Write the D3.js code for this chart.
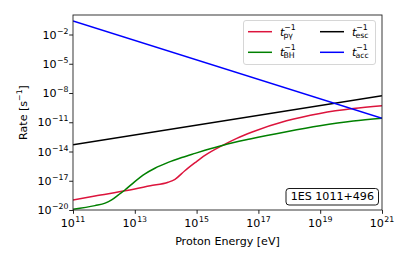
<!DOCTYPE html>
<html>
<head>
<meta charset="utf-8">
<script src="https://cdn.jsdelivr.net/npm/d3@7"></script>
<style>
  body { margin: 0; background: #fff; }
  text { font-family: "DejaVu Sans", sans-serif; fill: #000; }
</style>
</head>
<body>
<svg id="chart" width="407" height="262"></svg>
<script>
// values, log10 of energy [eV] and rate [1/s]
var energyTicks = [11, 13, 15, 17, 19, 21];
var rateTicks = [-20, -17, -14, -11, -8, -5, -2];

var pgE   = [11, 11.71, 12.74, 13.5, 14.08, 14.3, 14.62, 14.95, 15.27, 15.86, 16.3, 16.8, 17.91, 18.99, 20.07, 21];
var pgR   = [-18.97, -18.56, -18.0, -17.52, -17.15, -16.85, -15.97, -15.15, -14.4, -13.34, -12.65, -12.0, -10.85, -10.1, -9.6, -9.32];
var bhE   = [11, 11.71, 12.04, 12.25, 12.47, 12.68, 13.0, 13.33, 13.65, 14.08, 14.52, 14.95, 15.27, 15.86, 16.73, 17.91, 18.99, 20.07, 21];
var bhR   = [-19.92, -19.55, -19.3, -18.97, -18.45, -17.95, -17.09, -16.3, -15.72, -15.12, -14.62, -14.19, -13.88, -13.35, -12.72, -11.97, -11.36, -10.88, -10.6];
var escE  = [11, 21];
var escR  = [-13.32, -8.28];
var accE  = [11, 21];
var accR  = [-0.6, -10.6];

var series = [
  {name: 'pγ',  col: '#dc143c', e: pgE,  r: pgR},
  {name: 'BH',  col: '#008000', e: bhE,  r: bhR},
  {name: 'esc', col: '#000000', e: escE, r: escR},
  {name: 'acc', col: '#0000ff', e: accE, r: accR}
];

var svg = d3.select('#chart'),
    mLeft = 73, mRight = 382, mTop = 15, mBottom = 210,
    fs = 11.1, ss = 7.8;

var x = d3.scaleLog().domain([1e11, 1e21]).range([mLeft, mRight]);
var y = d3.scaleLog().domain([1e-20, 1]).range([mBottom, mTop]);

var clip = svg.append('clipPath').attr('id', 'clip');
clip.append('rect').attr('x', mLeft).attr('y', mTop)
    .attr('width', mRight - mLeft).attr('height', mBottom - mTop);

var line = d3.line()
    .x(function (d) { return x(Math.pow(10, d[0])); })
    .y(function (d) { return y(Math.pow(10, d[1])); })
    .curve(d3.curveMonotoneX);

var g = svg.append('g').attr('clip-path', 'url(#clip)');
series.forEach(function (s) {
    var pts = s.e.map(function (e, i) { return [e, s.r[i]]; });
    g.append('path').attr('d', line(pts))
        .attr('fill', 'none').attr('stroke', s.col).attr('stroke-width', 1.5);
});

// frame
svg.append('rect').attr('x', mLeft).attr('y', mTop)
    .attr('width', mRight - mLeft).attr('height', mBottom - mTop)
    .attr('fill', 'none').attr('stroke', '#222').attr('stroke-width', 0.9);

// power-of-ten label
function powLabel(sel, exp) {
    sel.append('tspan').text('10');
    sel.append('tspan').attr('dy', -5).attr('dx', 0.5).attr('font-size', ss)
        .text(exp < 0 ? '\u2212' + (-exp) : exp);
}

// x axis
var xAxis = svg.append('g').attr('transform', 'translate(0,' + mBottom + ')')
    .call(d3.axisBottom(x).tickValues(energyTicks.map(function (t) { return Math.pow(10, t); }))
        .tickSize(3.8).tickFormat(''));
xAxis.select('.domain').remove();
xAxis.selectAll('line').attr('stroke', '#222');
energyTicks.forEach(function (t) {
    var tx = svg.append('text').attr('x', x(Math.pow(10, t))).attr('y', 227)
        .attr('text-anchor', 'middle').attr('font-size', fs);
    powLabel(tx, t);
});

// y axis
var yAxis = svg.append('g').attr('transform', 'translate(' + mLeft + ',0)')
    .call(d3.axisLeft(y).tickValues(rateTicks.map(function (t) { return Math.pow(10, t); }))
        .tickSize(3.8).tickFormat(''));
yAxis.select('.domain').remove();
yAxis.selectAll('line').attr('stroke', '#222');
rateTicks.forEach(function (t) {
    var ty = svg.append('text').attr('x', 68.5).attr('y', y(Math.pow(10, t)) + 4)
        .attr('text-anchor', 'end').attr('font-size', fs);
    powLabel(ty, t);
});

// axis titles
svg.append('text').attr('x', (mLeft + mRight) / 2).attr('y', 245)
    .attr('text-anchor', 'middle').attr('font-size', fs).text('Proton Energy [eV]');
var yt = svg.append('text').attr('transform', 'translate(27,' + ((mTop + mBottom) / 2) + ') rotate(-90)')
    .attr('text-anchor', 'middle').attr('font-size', fs);
yt.append('tspan').text('Rate [s');
yt.append('tspan').attr('dy', -5).attr('font-size', ss).text('\u22121');
yt.append('tspan').attr('dy', 5).text(']');

// legend
var leg = svg.append('g');
leg.append('rect').attr('x', 243.5).attr('y', 20.5).attr('width', 132).attr('height', 44)
    .attr('rx', 2.5).attr('fill', '#fff').attr('fill-opacity', 0.8)
    .attr('stroke', '#ccc').attr('stroke-width', 0.8);
var legPos = [[248, 31.7], [248, 52.3], [320, 31.7], [320, 52.3]];
series.forEach(function (s, i) {
    var p = legPos[i],
        tx = p[0] + 32,
        base = p[1] + 4;
    leg.append('line').attr('x1', p[0]).attr('x2', p[0] + 24)
        .attr('y1', p[1]).attr('y2', p[1])
        .attr('stroke', s.col).attr('stroke-width', 1.5);
    leg.append('text').attr('x', tx).attr('y', base).attr('font-size', fs)
        .attr('font-style', 'italic').text('t');
    leg.append('text').attr('x', tx + 4.2).attr('y', base - 6).attr('font-size', ss).text('\u22121');
    leg.append('text').attr('x', tx + 3.4).attr('y', base + 2).attr('font-size', ss).text(s.name);
});

// source label
svg.append('rect').attr('x', 286).attr('y', 188.5).attr('width', 92.5).attr('height', 16.5)
    .attr('rx', 3).attr('fill', '#fff').attr('stroke', '#000').attr('stroke-width', 0.9);
svg.append('text').attr('x', 332.3).attr('y', 200.3).attr('text-anchor', 'middle')
    .attr('font-size', fs).text('1ES 1011+496');
</script>
</body>
</html>
